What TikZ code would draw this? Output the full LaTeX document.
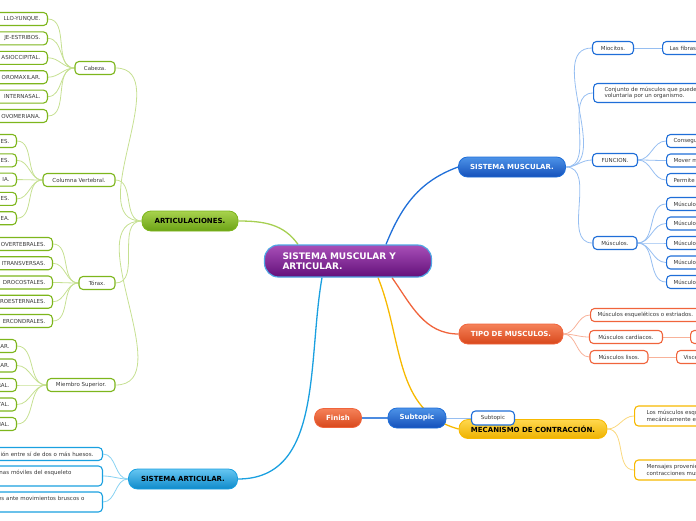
\documentclass[tikz,border=0pt]{standalone}
\usepackage{fontspec}
\setmainfont{DejaVu Sans}
\usetikzlibrary{positioning,backgrounds}
\definecolor{mGreen}{HTML}{7DB61C}
\definecolor{mGreenLine}{HTML}{C6E092}
\definecolor{mGreenTrunk}{HTML}{A6CF52}
\definecolor{mGreenTop}{HTML}{A8D24E}
\definecolor{mGreenBot}{HTML}{6CA315}
\definecolor{mBlue}{HTML}{1F6ED8}
\definecolor{mBlueLine}{HTML}{96BEF1}
\definecolor{mBlueTop}{HTML}{4D93E8}
\definecolor{mBlueBot}{HTML}{1450BA}
\definecolor{mRed}{HTML}{F0643C}
\definecolor{mRedLine}{HTML}{F8B29A}
\definecolor{mRedTop}{HTML}{F58259}
\definecolor{mRedBot}{HTML}{D8471B}
\definecolor{mYellow}{HTML}{F7B900}
\definecolor{mYellowLine}{HTML}{FAD87E}
\definecolor{mYellowTop}{HTML}{FFD84E}
\definecolor{mYellowBot}{HTML}{EEB200}
\definecolor{mCyan}{HTML}{1AA0E0}
\definecolor{mCyanLine}{HTML}{88D2F2}
\definecolor{mCyanTop}{HTML}{66C6F2}
\definecolor{mCyanBot}{HTML}{0E8ACA}
\definecolor{mPurpleTop}{HTML}{A84FB8}
\definecolor{mPurpleBot}{HTML}{63107A}
\definecolor{mRim}{HTML}{4FA6E4}
\tikzset{
  topic/.style={
    rounded corners=9pt,
    inner sep=0pt,
    minimum height=20pt,
    line width=0.8pt,
    font=\fontsize{7}{8.5}\selectfont\bfseries
  },
  topic root/.style={
    topic,
    rounded corners=14pt,
    draw=mRim,
    line width=1.2pt,
    top color=mPurpleTop,
    bottom color=mPurpleBot,
    text=white,
    align=left,
    text width=131pt,
    inner xsep=18pt,
    minimum height=32pt,
    font=\fontsize{9}{10.5}\selectfont\bfseries
  },
  topic green/.style={topic, draw=mGreen, top color=mGreenTop, bottom color=mGreenBot, text=black},
  topic blue/.style={topic, draw=mBlue, top color=mBlueTop, bottom color=mBlueBot, text=white},
  topic red/.style={topic, draw=mRed, top color=mRedTop, bottom color=mRedBot, text=white},
  topic yellow/.style={topic, draw=mYellow, top color=mYellowTop, bottom color=mYellowBot, text=black},
  topic cyan/.style={topic, draw=mCyan, top color=mCyanTop, bottom color=mCyanBot, text=black},
  leaf/.style={
    draw=#1,
    fill=white,
    line width=1.1pt,
    rounded corners=4pt,
    inner xsep=7pt,
    inner ysep=0pt,
    minimum height=13pt,
    font=\fontsize{5.5}{6.5}\selectfont,
    text=black!78
  },
  leaf green/.style={leaf=mGreen},
  leaf blue/.style={leaf=mBlue},
  leaf red/.style={leaf=mRed},
  leaf yellow/.style={leaf=mYellow},
  leaf cyan/.style={leaf=mCyan},
  cut left/.style={
    text width=80pt,
    align=right,
    anchor=east
  },
  cut right/.style={
    align=left,
    anchor=west
  },
  branch/.style={
    draw=#1,
    line width=0.8pt
  },
  trunk/.style={
    draw=#1,
    line width=1.3pt
  },
}

\begin{document}
\begin{tikzpicture}[x=1pt,y=1pt]
  \useasboundingbox (0,0) rectangle (696,-520);
  \clip (0,0) rectangle (696,-520);

  % centre
  \node[topic root] (root) at (348,-261) {SISTEMA MUSCULAR Y\\ARTICULAR.};

  % main topics
  \node[topic green, minimum width=96pt] (artic) at (190,-221) {ARTICULACIONES.};
  \node[topic blue, minimum width=107pt] (musc) at (512,-167) {SISTEMA MUSCULAR.};
  \node[topic red, minimum width=104pt] (tipo) at (511,-334) {TIPO DE MUSCULOS.};
  \node[topic yellow, minimum width=148pt, minimum height=19pt] (meca) at (533,-429) {MECANISMO DE CONTRACCIÓN.};
  \node[topic cyan, minimum width=109pt] (sart) at (183,-479) {SISTEMA ARTICULAR.};
  \node[topic red, minimum width=47pt, minimum height=19pt] (fin) at (338,-418) {Finish};
  \node[topic blue, minimum width=58pt] (sub) at (417,-418) {Subtopic};
  \node[leaf blue, minimum width=43pt, minimum height=14pt] (subs) at (493,-418) {Subtopic};

  % articulaciones
  \node[leaf green, minimum width=40pt] (cab) at (95,-68) {Cabeza.};
  \node[leaf green, minimum width=72pt] (col) at (79,-180) {Columna Vertebral.};
  \node[leaf green, minimum width=36pt] (tor) at (97,-283) {Tórax.};
  \node[leaf green, minimum width=68pt] (mie) at (81,-385) {Miembro Superior.};
  \foreach \txt [count=\i] in {LLO-YUNQUE., JE-ESTRIBOS., ASIOCCIPITAL., OROMAXILAR., INTERNASAL., OVOMERIANA.}
    \node[leaf green, cut left] (cab\i) at (48,{-19-19.4*(\i-1)}) {\txt};
  \foreach \txt [count=\i] in {ES., ES., IA., ES., EA.}
    \node[leaf green, cut left] (col\i) at (17,{-141-19.3*(\i-1)}) {\txt};
  \foreach \txt [count=\i] in {OVERTEBRALES., ITRANSVERSAS., DROCOSTALES., ROESTERNALES., ERCONDRALES.}
    \node[leaf green, cut left] (tor\i) at (53,{-244-19.25*(\i-1)}) {\txt};
  \foreach \txt [count=\i] in {LAR., LAR., RAL., TAL., IAL.}
    \node[leaf green, cut left] (mie\i) at (17,{-346-19.5*(\i-1)}) {\txt};

  % sistema articular
  \node[leaf cyan, cut left, text width=140pt, inner xsep=9pt] (sart1) at (103,-454) {ión entre sí de dos o más huesos.};
  \node[leaf cyan, cut left, text width=140pt, inner xsep=9pt, minimum height=20pt] (sart2) at (103,-476)
    {enas móviles del esqueleto\makebox[22pt]{}\\\mbox{}};
  \node[leaf cyan, cut left, text width=140pt, inner xsep=9pt, minimum height=20pt] (sart3) at (103,-502)
    {es ante movimientos bruscos o\makebox[9pt]{}\\\mbox{}};

  % sistema muscular
  \node[leaf blue, minimum width=41pt] (mio) at (613,-48) {Miocitos.};
  \node[leaf blue, cut right] (fib) at (662,-48) {Las fibras musculares};
  \node[leaf blue, cut right, minimum height=19pt, inner xsep=11pt] (conj) at (593,-93)
    {Conjunto de músculos que pueden ser controlados\\voluntaria por un organismo.};
  \node[leaf blue, minimum width=45pt] (fun) at (615,-160) {FUNCION.};
  \node[leaf blue, minimum width=44pt] (mus) at (615,-243) {Músculos.};
  \foreach \txt [count=\i] in {Conseguir, Mover músculos, Permite}
    \node[leaf blue, cut right] (fun\i) at (666,{-141-19.5*(\i-1)}) {\txt};
  \foreach \i in {1,...,5}
    \node[leaf blue, cut right] (mus\i) at (666,{-204-19.5*(\i-1)}) {Músculos};

  % tipo de musculos
  \node[leaf red, cut right] (esq) at (590,-315) {Músculos esqueléticos o estriados.};
  \node[leaf red, minimum width=73pt] (car) at (626,-337) {Músculos cardíacos.};
  \node[leaf red, minimum width=58pt] (lis) at (619,-357) {Músculos lisos.};
  \node[leaf red, cut right, minimum width=20pt] (car1) at (690,-337) {};
  \node[leaf red, cut right] (lis1) at (676,-357) {Viscerales.};

  % mecanismo
  \node[leaf yellow, cut right, minimum height=20pt, inner xsep=12pt] (mec1) at (634,-416)
    {Los músculos esqueléticos\\mecánicamente en};
  \node[leaf yellow, cut right, minimum height=20pt, inner xsep=12pt] (mec2) at (634,-470)
    {Mensajes provenientes\\contracciones musculares};

  \begin{scope}[on background layer]
    \draw[trunk=mGreenTrunk] (artic.east) to[out=0,in=125] ([xshift=-50pt]root.north);
    \draw[trunk=mBlue] ([xshift=38pt]root.north) to[out=68,in=200] (musc.west);
    \draw[trunk=mRed] ([xshift=44pt]root.south) to[out=-55,in=180] (tipo.west);
    \draw[trunk=mYellow] ([xshift=30pt]root.south) to[out=-68,in=165] (meca.west);
    \draw[trunk=mCyan] ([xshift=-26pt]root.south) to[out=-100,in=0] (sart.east);
    \draw[trunk=mBlue!80] (fin.east) -- (sub.west);
    \draw[branch=mBlueLine] (sub.east) -- (subs.west);

    \foreach \n in {cab,col,tor,mie}
      \draw[branch=mGreenLine] (artic.west) to[out=180,in=0] (\n.east);
    \foreach \i in {1,...,6}
      \draw[branch=mGreenLine] (cab.west) to[out=180,in=0] (cab\i.east);
    \foreach \n in {col,tor,mie}
      \foreach \i in {1,...,5}
        \draw[branch=mGreenLine] (\n.west) to[out=180,in=0] (\n\i.east);
    \foreach \i in {1,2,3}
      \draw[branch=mCyanLine] (sart.west) to[out=180,in=0] (sart\i.east);

    \foreach \n in {mio,conj,fun,mus}
      \draw[branch=mBlueLine] (musc.east) to[out=0,in=180] (\n.west);
    \draw[branch=mBlueLine] (mio.east) -- (fib.west);
    \foreach \i in {1,2,3}
      \draw[branch=mBlueLine] (fun.east) to[out=0,in=180] (fun\i.west);
    \foreach \i in {1,...,5}
      \draw[branch=mBlueLine] (mus.east) to[out=0,in=180] (mus\i.west);

    \foreach \n in {esq,car,lis}
      \draw[branch=mRedLine] (tipo.east) to[out=0,in=180] (\n.west);
    \draw[branch=mRedLine] (car.east) -- (car1.west);
    \draw[branch=mRedLine] (lis.east) -- (lis1.west);

    \foreach \n in {mec1,mec2}
      \draw[branch=mYellowLine] (meca.east) to[out=0,in=180] (\n.west);
  \end{scope}
\end{tikzpicture}
\end{document}
